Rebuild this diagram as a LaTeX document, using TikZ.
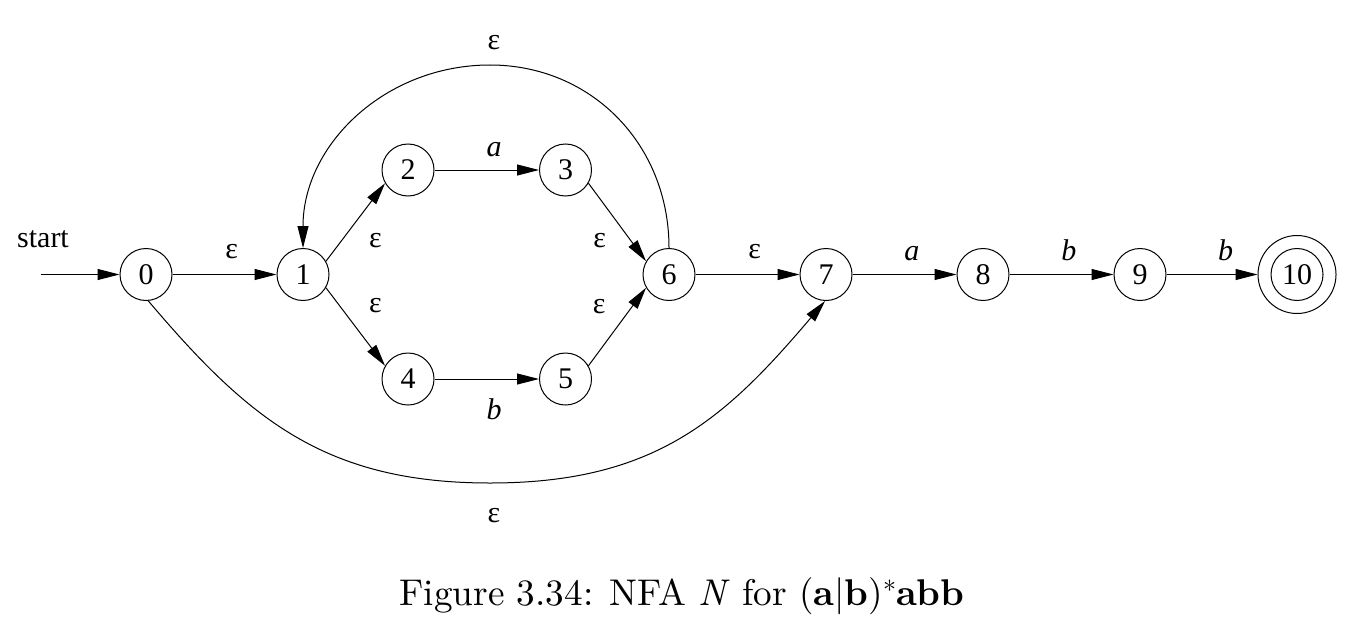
\documentclass[tikz,border=0pt]{standalone}
\usepackage{fontspec}
\newfontfamily\tms{Liberation Serif}
\newfontfamily\lmten{lmroman10-regular.otf}[BoldFont=lmroman10-bold.otf,ItalicFont=lmroman10-italic.otf]
\usetikzlibrary{arrows.meta}
\begin{document}
\begin{tikzpicture}[x=0.5pt,y=-0.5pt,
  st/.style={circle,draw,line width=0.5pt,minimum size=26pt,inner sep=0pt,font=\tms\fontsize{15}{18}\selectfont},
  arr/.style={line width=0.5pt,-{Triangle[length=11pt,width=5.5pt]}},
  lbl/.style={font=\tms\fontsize{15}{18}\selectfont,inner sep=0pt},
  lit/.style={font=\tms\itshape\fontsize{15}{18}\selectfont,inner sep=0pt}]
\useasboundingbox (0,0) rectangle (1352,626);

\node[st] (n0) at (146,274.5) {0};
\node[st] (n1) at (303,274.5) {1};
\node[st] (n2) at (408,170) {2};
\node[st] (n3) at (565.5,170) {3};
\node[st] (n4) at (408,379) {4};
\node[st] (n5) at (565.5,379) {5};
\node[st] (n6) at (669,274.5) {6};
\node[st] (n7) at (826,274.5) {7};
\node[st] (n8) at (983,274.5) {8};
\node[st] (n9) at (1140,274.5) {9};
\node[st] (n10) at (1297,274.5) {10};
\node[circle,draw,line width=0.5pt,minimum size=39pt,inner sep=0pt] (n10o) at (n10) {};

\coordinate (s) at (40.7,274.5);
\node[lbl,anchor=base] (startl) at (43,247) {start};
\draw[arr] (s) -- (n0);

\draw[arr] (n0) -- node[lbl,pos=0.57,above=7.5pt] {ε} (n1);
\draw[arr] (n1.30) -- node[lbl,midway,xshift=10pt,yshift=-9pt] {ε} (n2.210);
\draw[arr] (n1.-30) -- node[lbl,midway,xshift=10pt,yshift=10.5pt] {ε} (n4.150);
\draw[arr] (n2) -- node[lit,pos=0.57,above=6.5pt] {a} (n3);
\draw[arr] (n4) -- node[lit,pos=0.57,below=9.5pt] {b} (n5);
\draw[arr] (n3.-30) -- node[lbl,midway,xshift=-8.75pt,yshift=-9.3pt] {ε} (n6.150);
\draw[arr] (n5.30) -- node[lbl,midway,xshift=-9pt,yshift=10pt] {ε} (n6.210);
\draw[arr] (n6) -- node[lbl,pos=0.57,above=7.5pt] {ε} (n7);
\draw[arr] (n7) -- node[lit,pos=0.57,above=6.5pt] {a} (n8);
\draw[arr] (n8) -- node[lit,pos=0.57,above=6.5pt] {b} (n9);
\draw[arr] (n9) -- node[lit,pos=0.65,above=6.5pt] {b} (n10o);

\coordinate (top) at (490,65);
\draw[arr] (n6.north) .. controls +(0,-104) and +(101,0) .. (top)
  node[lbl,above=7.5pt,xshift=2pt] {ε}
  .. controls +(-105,0) and +(0,-103) .. (n1.north);

\coordinate (bot) at (490,483);
\draw[arr] (n0.-85) .. controls +(100,118) and +(-165,0) .. (bot)
  node[lbl,below=12.5pt,xshift=2pt] {ε}
  .. controls +(165,0) and +(-100,118) .. (n7.-92);

\node[font=\lmten\fontsize{18.6}{22}\selectfont,anchor=base] (cap) at (682,605)
  {Figure 3.34: NFA \textit{N} for (\textbf{a}|\textbf{b})\raisebox{3pt}{\fontsize{13}{13}\selectfont *}\textbf{abb}};
\end{tikzpicture}
\end{document}
